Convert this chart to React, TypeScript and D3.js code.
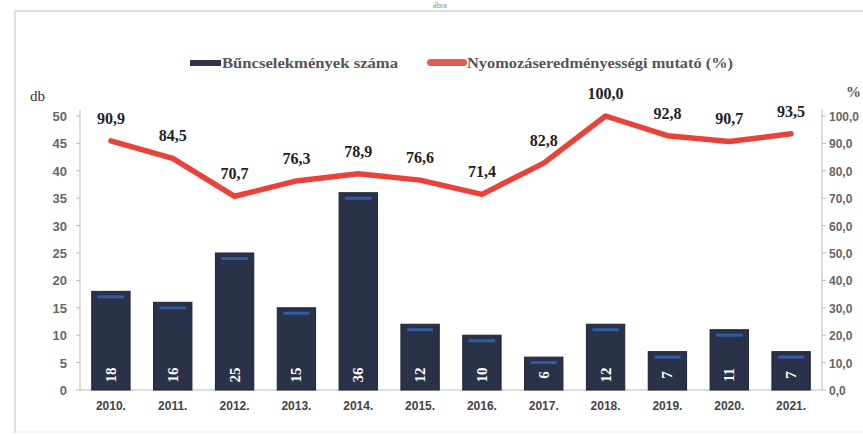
import React, { useEffect, useRef } from 'react';
import * as d3 from 'd3';

const years = ['2010.', '2011.', '2012.', '2013.', '2014.', '2015.', '2016.', '2017.', '2018.', '2019.', '2020.', '2021.'];
const crimes = [18, 16, 25, 15, 36, 12, 10, 6, 12, 7, 11, 7];
const rate = [90.9, 84.5, 70.7, 76.3, 78.9, 76.6, 71.4, 82.8, 100.0, 92.8, 90.7, 93.5];
const leftTicks = [0, 5, 10, 15, 20, 25, 30, 35, 40, 45, 50];
const rightTicks = [0, 10, 20, 30, 40, 50, 60, 70, 80, 90, 100];

const W = 863;
const H = 435;
const left = 80;
const right = 822;
const top = 116;
const bottom = 390;

const fmt = (v: number) => v.toFixed(1).replace('.', ',');

const App: React.FC = () => {
  const svgRef = useRef<SVGSVGElement>(null);

  useEffect(() => {
    if (!svgRef.current) return;
    const svg = d3.select(svgRef.current);
    svg.selectAll('*').remove();

    const x = d3.scaleBand<string>().domain(years).range([left, right]).paddingInner(0.38).paddingOuter(0.19);
    const yL = d3.scaleLinear().domain([0, 50]).range([bottom, top]);
    const yR = d3.scaleLinear().domain([0, 100]).range([bottom, top]);
    const cx = (d: string) => (x(d) ?? 0) + x.bandwidth() / 2;

    svg.append('rect').attr('width', W).attr('height', H).attr('fill', '#fff');

    // cím maradéka a lap tetején
    svg.append('text')
      .attr('x', 440).attr('y', 8)
      .attr('text-anchor', 'middle')
      .style('font-family', 'Liberation Serif')
      .style('font-size', '8px')
      .attr('fill', '#888')
      .text('ábra');

    // keret
    svg.append('path')
      .attr('d', `M15,${H - 2} L15,11 L${W},11`)
      .attr('fill', 'none')
      .attr('stroke', '#d4d4d4')
      .attr('stroke-width', 1.5);
    svg.append('line')
      .attr('x1', 15).attr('x2', W).attr('y1', H - 3).attr('y2', H - 3)
      .attr('stroke', '#eee');

    // jelmagyarázat
    const lg = svg.append('g');
    lg.append('rect').attr('x', 190).attr('y', 60).attr('width', 31).attr('height', 6).attr('fill', '#2d3449');
    lg.append('text').attr('x', 222).attr('y', 68)
      .style('font-family', 'Liberation Serif').style('font-size', '14px').style('font-weight', 'bold')
      .attr('fill', '#555').attr('textLength', 176).attr('lengthAdjust', 'spacingAndGlyphs')
      .text('Bűncselekmények száma');
    lg.append('rect').attr('x', 427).attr('y', 59).attr('width', 40).attr('height', 7).attr('rx', 3.5).attr('fill', '#e05a57');
    lg.append('text').attr('x', 467).attr('y', 68)
      .style('font-family', 'Liberation Serif').style('font-size', '14px').style('font-weight', 'bold')
      .attr('fill', '#555').attr('textLength', 266).attr('lengthAdjust', 'spacingAndGlyphs')
      .text('Nyomozáseredményességi mutató (%)');

    // tengelycímek
    svg.append('text').attr('x', 30).attr('y', 101)
      .style('font-family', 'Liberation Serif').style('font-size', '15px').attr('fill', '#333').text('db');
    svg.append('text').attr('x', 846).attr('y', 97)
      .style('font-family', 'Liberation Serif').style('font-size', '15px').style('font-weight', 'bold').attr('fill', '#555').text('%');

    // bal tengely
    const axL = svg.append('g');
    axL.append('line').attr('x1', left).attr('x2', left).attr('y1', top - 6).attr('y2', bottom).attr('stroke', '#bbb');
    leftTicks.forEach(t => {
      axL.append('line').attr('x1', left - 4).attr('x2', left).attr('y1', yL(t)).attr('y2', yL(t)).attr('stroke', '#bbb');
      axL.append('text').attr('x', 67).attr('y', yL(t) + 5).attr('text-anchor', 'end')
        .style('font-family', 'Liberation Sans Narrow, Liberation Sans').style('font-size', '13px').style('font-weight', 'bold')
        .attr('fill', '#666').text(String(t));
    });

    // jobb tengely
    const axR = svg.append('g');
    axR.append('line').attr('x1', right).attr('x2', right).attr('y1', top - 6).attr('y2', bottom).attr('stroke', '#bbb');
    rightTicks.forEach(t => {
      axR.append('line').attr('x1', right).attr('x2', right + 4).attr('y1', yR(t)).attr('y2', yR(t)).attr('stroke', '#bbb');
      axR.append('text').attr('x', 829).attr('y', yR(t) + 5)
        .style('font-family', 'Liberation Sans Narrow, Liberation Sans').style('font-size', '12px').style('font-weight', 'bold')
        .attr('fill', '#666').text(fmt(t));
    });

    // alapvonal
    svg.append('line').attr('x1', left).attr('x2', right).attr('y1', bottom).attr('y2', bottom).attr('stroke', '#bbb');

    // oszlopok
    const bars = svg.append('g');
    years.forEach((yr, i) => {
      const bx = x(yr) ?? 0;
      const by = yL(crimes[i]);
      bars.append('rect')
        .attr('x', bx).attr('y', by).attr('width', x.bandwidth()).attr('height', bottom - by)
        .attr('fill', '#2a3249').attr('stroke', '#1e2333').attr('stroke-width', 1);
      bars.append('rect')
        .attr('x', bx + 6).attr('y', by + 4).attr('width', x.bandwidth() - 12).attr('height', 3)
        .attr('fill', '#2f5d9f');
      bars.append('text')
        .attr('transform', `translate(${cx(yr) + 5},375) rotate(-90)`)
        .attr('text-anchor', 'middle')
        .style('font-family', 'Liberation Serif').style('font-size', '15px').style('font-weight', 'bold')
        .attr('fill', '#fff').text(String(crimes[i]));
    });

    // évek
    years.forEach(yr => {
      svg.append('text').attr('x', cx(yr)).attr('y', 410).attr('text-anchor', 'middle')
        .style('font-family', 'Liberation Sans Narrow, Liberation Sans').style('font-size', '12px').style('font-weight', 'bold')
        .attr('fill', '#444').text(yr);
    });

    // vonal
    const line = d3.line<number>()
      .x((_, i) => cx(years[i]))
      .y(d => yR(d));
    svg.append('path')
      .datum(rate)
      .attr('d', line)
      .attr('fill', 'none')
      .attr('stroke', '#e8433b')
      .attr('stroke-width', 5.5)
      .attr('stroke-linejoin', 'round')
      .attr('stroke-linecap', 'round');

    rate.forEach((v, i) => {
      svg.append('text')
        .attr('x', cx(years[i]))
        .attr('y', yR(v) - 17)
        .attr('text-anchor', 'middle')
        .style('font-family', 'Liberation Serif').style('font-size', '16px').style('font-weight', 'bold')
        .attr('fill', '#222').text(fmt(v));
    });
  }, []);

  return (
    <svg ref={svgRef} width={W} height={H} style={{ position: 'absolute', left: 0, top: 0 }} />
  );
};

export default App;
